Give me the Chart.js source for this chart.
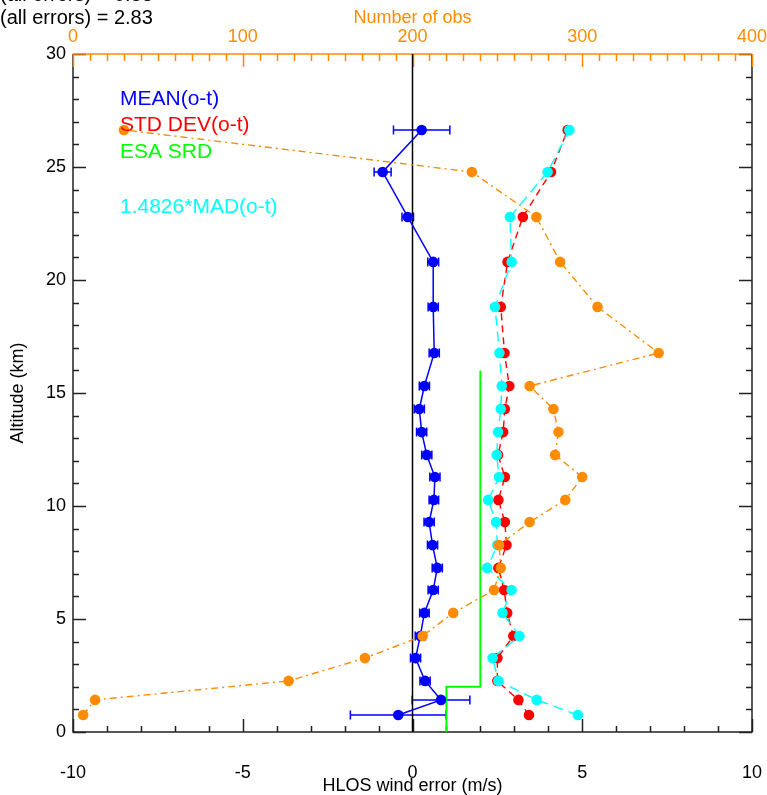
<!DOCTYPE html>
<html>
<head>
<meta charset="utf-8">
<script src="https://cdn.jsdelivr.net/npm/chart.js@4.4.1/dist/chart.umd.min.js"></script>
<style>
  html, body { margin: 0; padding: 0; background: #fff; }
  #wrap { width: 767px; height: 795px; }
</style>
</head>
<body>
<div id="wrap"><canvas id="profile" width="767" height="795"></canvas></div>
<script>
"use strict";

// Altitude bins (km), bottom to top
var altitude = [0.75, 1.42, 2.26, 3.27, 4.25, 5.27, 6.28, 7.26, 8.27, 9.29, 10.27,
    11.28, 12.26, 13.27, 14.29, 15.31, 16.77, 18.81, 20.80, 22.79, 24.78, 26.64];

// HLOS wind error statistics (m/s)
var meanOT = [-0.42, 0.84, 0.37, 0.09, 0.23, 0.35, 0.61, 0.73, 0.59, 0.49, 0.63,
    0.66, 0.42, 0.27, 0.20, 0.35, 0.64, 0.61, 0.61, -0.14, -0.88, 0.27];
var meanErr = [1.41, 0.85, 0.15, 0.15, 0.15, 0.14, 0.15, 0.15, 0.15, 0.15, 0.14,
    0.15, 0.15, 0.15, 0.15, 0.15, 0.15, 0.15, 0.16, 0.17, 0.25, 0.83];
var stdDevOT = [3.43, 3.12, 2.50, 2.50, 2.97, 2.79, 2.70, 2.53, 2.77, 2.72, 2.53,
    2.72, 2.52, 2.67, 2.72, 2.85, 2.71, 2.60, 2.80, 3.25, 4.08, 4.57];
var madOT = [4.87, 3.66, 2.53, 2.36, 3.15, 2.65, 2.92, 2.20, 2.50, 2.46, 2.23,
    2.55, 2.48, 2.52, 2.60, 2.63, 2.56, 2.43, 2.92, 2.87, 3.98, 4.62];

// Number of observations per bin (top axis)
var numObs = [6, 13, 127, 172, 206, 224, 248, 252, 251, 269, 290,
    300, 284, 286, 283, 269, 345, 309, 287, 273, 235, 30];

// ESA SRD requirement (step profile)
var srdWind = [1, 1, 2, 2];
var srdAlt = [0, 2, 2, 16];

// Axis ranges
var windRange = [-10, 10];
var obsRange = [0, 400];
var altRange = [0, 30];

// Summary lines above the plot
var summaryLines = ["(all errors) = 0.33", "(all errors) = 2.83"];

var BLUE = "#0000ff", RED = "#ff0000", GREEN = "#00ff00", CYAN = "#00ffff", ORANGE = "#ff8c00";
var FONT = "'Liberation Sans', Arial, Helvetica, sans-serif";

function profile(values) {
    return altitude.map(function (a, i) { return { x: values[i], y: a }; });
}

// keep the plot box fixed: no extra room for end labels
function noSidePadding(s) {
    s.paddingLeft = 0;
    s.paddingRight = 0;
}

// inward tick marks and the frame, IDL style
var frameTicks = {
    id: "frameTicks",
    beforeDatasetsDraw: function (chart) {
        var ctx = chart.ctx, a = chart.chartArea;
        var sx = chart.scales.x, sx2 = chart.scales.x2, sy = chart.scales.y;
        var v, p, len;
        ctx.save();
        ctx.lineWidth = 1.5;
        ctx.strokeStyle = "#222";
        ctx.beginPath();
        ctx.moveTo(a.left, a.top);
        ctx.lineTo(a.left, a.bottom);
        ctx.lineTo(a.right, a.bottom);
        ctx.lineTo(a.right, a.top);
        ctx.stroke();

        ctx.beginPath();
        for (v = altRange[0]; v <= altRange[1]; v++) {
            p = Math.round(sy.getPixelForValue(v)) + 0.5;
            len = v % 5 === 0 ? 13 : 6;
            ctx.moveTo(a.left, p); ctx.lineTo(a.left + len, p);
            ctx.moveTo(a.right, p); ctx.lineTo(a.right - len, p);
        }
        for (v = windRange[0]; v <= windRange[1]; v++) {
            p = Math.round(sx.getPixelForValue(v)) + 0.5;
            len = v % 5 === 0 ? 13 : 6;
            ctx.moveTo(p, a.bottom); ctx.lineTo(p, a.bottom - len);
        }
        ctx.stroke();

        ctx.strokeStyle = ORANGE;
        ctx.beginPath();
        ctx.moveTo(a.left, a.top); ctx.lineTo(a.right, a.top);
        for (v = obsRange[0]; v <= obsRange[1]; v += 10) {
            p = Math.round(sx2.getPixelForValue(v)) + 0.5;
            len = v % 100 === 0 ? 13 : 7;
            ctx.moveTo(p, a.top); ctx.lineTo(p, a.top + len);
        }
        ctx.stroke();
        ctx.restore();
    }
};

// horizontal error bars on the mean profile
var meanErrorBars = {
    id: "meanErrorBars",
    beforeDatasetsDraw: function (chart) {
        var ctx = chart.ctx, sx = chart.scales.x, sy = chart.scales.y;
        ctx.save();
        ctx.strokeStyle = BLUE;
        ctx.lineWidth = 1.5;
        ctx.beginPath();
        for (var i = 0; i < altitude.length; i++) {
            var y = sy.getPixelForValue(altitude[i]);
            var x0 = sx.getPixelForValue(meanOT[i] - meanErr[i]);
            var x1 = sx.getPixelForValue(meanOT[i] + meanErr[i]);
            ctx.moveTo(x0, y); ctx.lineTo(x1, y);
            ctx.moveTo(x0, y - 4.5); ctx.lineTo(x0, y + 4.5);
            ctx.moveTo(x1, y - 4.5); ctx.lineTo(x1, y + 4.5);
        }
        ctx.stroke();
        ctx.restore();
    }
};

// titles, legend text and summary lines
var plotText = {
    id: "plotText",
    afterDraw: function (chart) {
        var ctx = chart.ctx, a = chart.chartArea;
        var cx = (a.left + a.right) / 2;
        ctx.save();
        ctx.textBaseline = "middle";

        ctx.font = "20px " + FONT;
        ctx.fillStyle = "#000";
        ctx.textAlign = "left";
        ctx.fillText(summaryLines[0], 0, -5);
        ctx.fillText(summaryLines[1], 0, 18);

        ctx.font = "18px " + FONT;
        ctx.textAlign = "center";
        ctx.fillStyle = ORANGE;
        ctx.fillText("Number of obs", cx, 18);
        ctx.fillStyle = "#000";
        ctx.fillText("HLOS wind error (m/s)", cx, 786);

        ctx.save();
        ctx.translate(18, (a.top + a.bottom) / 2);
        ctx.rotate(-Math.PI / 2);
        ctx.fillText("Altitude (km)", 0, 0);
        ctx.restore();

        ctx.font = "21px " + FONT;
        ctx.textAlign = "left";
        var legend = [["MEAN(o-t)", BLUE, 99], ["STD DEV(o-t)", RED, 125],
            ["ESA SRD", GREEN, 152], ["1.4826*MAD(o-t)", CYAN, 207]];
        legend.forEach(function (l) {
            ctx.fillStyle = l[1];
            ctx.fillText(l[0], 120, l[2]);
        });
        ctx.restore();
    }
};

var chart = new Chart(document.getElementById("profile"), {
    type: "scatter",
    data: {
        datasets: [{
            label: "Number of obs",
            data: profile(numObs),
            xAxisID: "x2",
            showLine: true,
            borderColor: ORANGE,
            backgroundColor: ORANGE,
            borderWidth: 1.4,
            borderDash: [7, 4, 2, 4],
            pointRadius: 5.3,
            pointBorderWidth: 0
        }, {
            label: "1.4826*MAD(o-t)",
            data: profile(madOT),
            showLine: true,
            borderColor: CYAN,
            backgroundColor: CYAN,
            borderWidth: 1.4,
            borderDash: [10, 6],
            pointRadius: 5.3,
            pointBorderWidth: 0
        }, {
            label: "STD DEV(o-t)",
            data: profile(stdDevOT),
            showLine: true,
            borderColor: RED,
            backgroundColor: RED,
            borderWidth: 1.4,
            borderDash: [7, 5],
            pointRadius: 5.3,
            pointBorderWidth: 0
        }, {
            label: "MEAN(o-t)",
            data: profile(meanOT),
            showLine: true,
            borderColor: BLUE,
            backgroundColor: BLUE,
            borderWidth: 1.5,
            pointRadius: 5.3,
            pointBorderWidth: 0
        }, {
            label: "ESA SRD",
            data: srdWind.map(function (w, i) { return { x: w, y: srdAlt[i] }; }),
            showLine: true,
            borderColor: GREEN,
            borderWidth: 2,
            pointRadius: 0
        }, {
            label: "zero",
            data: [{ x: 0, y: altRange[0] }, { x: 0, y: altRange[1] }],
            showLine: true,
            borderColor: "#000",
            borderWidth: 1.5,
            pointRadius: 0
        }]
    },
    options: {
        responsive: false,
        devicePixelRatio: 1,
        animation: false,
        layout: { padding: { left: 0, right: 15, top: 0, bottom: 0 } },
        plugins: {
            legend: { display: false },
            tooltip: { enabled: false }
        },
        scales: {
            x: {
                type: "linear",
                position: "bottom",
                min: windRange[0],
                max: windRange[1],
                grid: { display: false, drawTicks: false },
                border: { display: false },
                ticks: { stepSize: 5, padding: 30, color: "#000", font: { size: 18, family: FONT } },
                afterFit: function (s) { s.height = 63; noSidePadding(s); }
            },
            x2: {
                type: "linear",
                position: "top",
                min: obsRange[0],
                max: obsRange[1],
                grid: { display: false, drawTicks: false },
                border: { display: false },
                ticks: { stepSize: 100, padding: 6, color: ORANGE, font: { size: 18, family: FONT } },
                afterFit: function (s) { s.height = 54; noSidePadding(s); }
            },
            y: {
                type: "linear",
                position: "left",
                min: altRange[0],
                max: altRange[1],
                grid: { display: false, drawTicks: false },
                border: { display: false },
                ticks: { stepSize: 5, padding: 7, color: "#000", font: { size: 18, family: FONT } },
                afterFit: function (s) { s.width = 73; s.paddingTop = 0; s.paddingBottom = 0; }
            }
        }
    },
    plugins: [frameTicks, meanErrorBars, plotText]
});
</script>
</body>
</html>
